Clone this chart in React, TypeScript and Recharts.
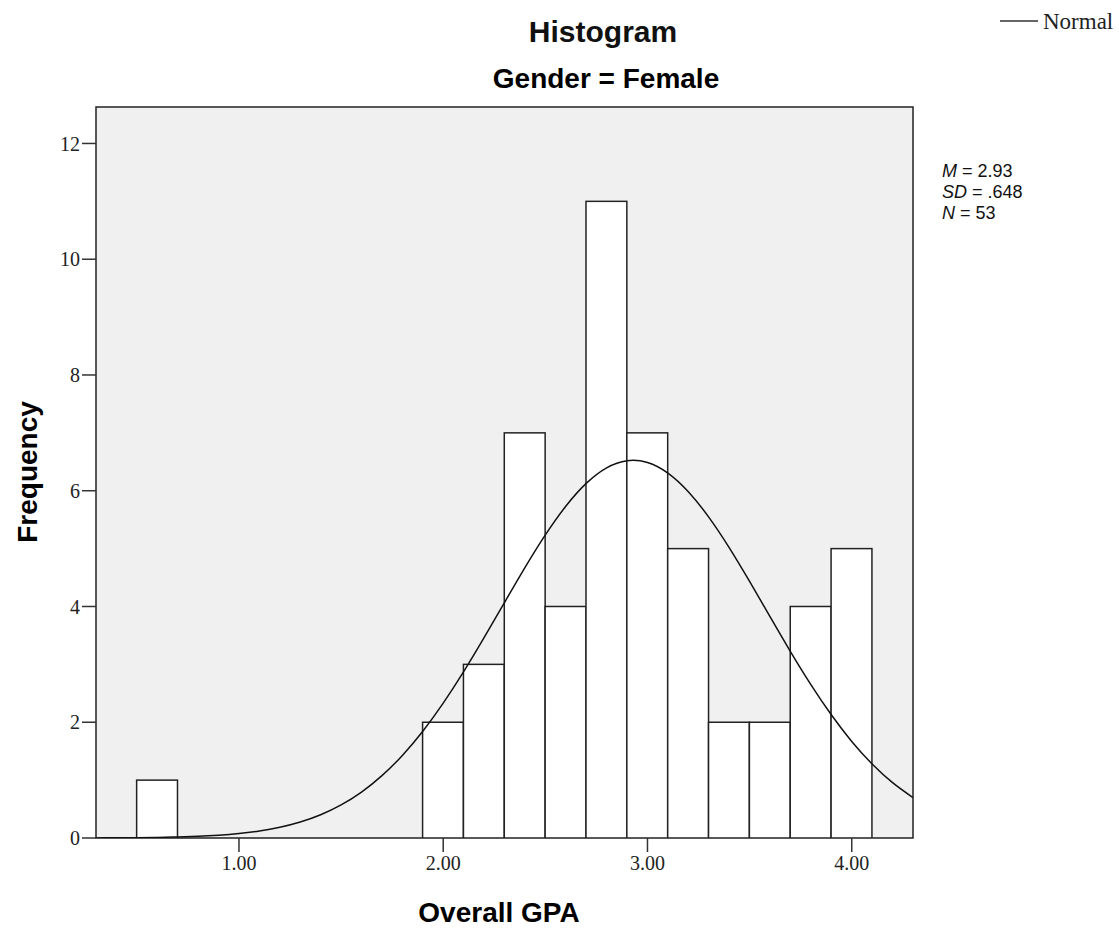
import { ComposedChart, Bar, Line, XAxis, YAxis, CartesianGrid, ReferenceArea } from 'recharts';

// histogram bins (bin centre, width .2) and counts
const binCenters = [0.6, 2.0, 2.2, 2.4, 2.6, 2.8, 3.0, 3.2, 3.4, 3.6, 3.8, 4.0];
const binCounts = [1, 2, 3, 7, 4, 11, 7, 5, 2, 2, 4, 5];
const binWidth = 0.2;

// fitted normal curve, read at every .1
const curveGpa = [
  0.3, 0.4, 0.5, 0.6, 0.7, 0.8, 0.9, 1.0, 1.1, 1.2, 1.3, 1.4, 1.5, 1.6, 1.7, 1.8, 1.9, 2.0, 2.1, 2.2,
  2.3, 2.4, 2.5, 2.6, 2.7, 2.8, 2.9, 3.0, 3.1, 3.2, 3.3, 3.4, 3.5, 3.6, 3.7, 3.8, 3.9, 4.0, 4.1, 4.2, 4.3,
];
const curveFreq = [
  0.002, 0.003, 0.006, 0.01, 0.018, 0.029, 0.048, 0.077, 0.121, 0.185, 0.276, 0.402, 0.572, 0.794,
  1.077, 1.427, 1.845, 2.33, 2.873, 3.46, 4.068, 4.671, 5.236, 5.732, 6.127, 6.396, 6.519, 6.488,
  6.305, 5.983, 5.544, 5.017, 4.432, 3.824, 3.221, 2.65, 2.129, 1.669, 1.279, 0.956, 0.698,
];

const xTicks = [1, 2, 3, 4];
const yTicks = [0, 2, 4, 6, 8, 10, 12];
const xDomain = [0.3, 4.3];
const yDomain = [0, 12.63];

const statLabels = ['M', 'SD', 'N'];
const statValues = ['2.93', '.648', '53'];

// one table: curve rows, with the bin count on the row of each bin centre
const data = curveGpa.map((gpa, i) => {
  const b = binCenters.findIndex((c) => Math.abs(c - gpa) < 1e-6);
  return { gpa, normal: curveFreq[i], count: b >= 0 ? binCounts[b] : undefined };
});

const W = 1119;
const H = 928;
const margin = { top: 107, right: 206, bottom: 50, left: 36 };
const yAxisWidth = 60;
const plotWidth = W - margin.left - margin.right - yAxisWidth;
const binPx = (plotWidth / (xDomain[1] - xDomain[0])) * binWidth;

const sans = '"Liberation Sans", Arial, sans-serif';
const serif = '"Liberation Serif", "Times New Roman", serif';

// bar is centred where recharts puts it, but spans the full bin width
const BinRect = (props: any) => {
  const { x, y, width, height } = props;
  if (height == null || !isFinite(height) || height <= 0) return null;
  const cx = x + width / 2;
  return (
    <rect
      x={cx - binPx / 2}
      y={y}
      width={binPx}
      height={height}
      fill="#ffffff"
      stroke="#222"
      strokeWidth={1.5}
    />
  );
};

export default function App() {
  return (
    <div style={{ position: 'absolute', left: 0, top: 0, width: W, height: H, background: '#fff' }}>
      <ComposedChart width={W} height={H} data={data} margin={margin} barCategoryGap={0} barGap={0}>
        <CartesianGrid fill="#f0f0f0" horizontal={false} vertical={false} />
        <XAxis
          dataKey="gpa"
          type="number"
          domain={xDomain}
          ticks={xTicks}
          allowDataOverflow
          tickFormatter={(v: number) => v.toFixed(2)}
          axisLine={false}
          tickLine={{ stroke: '#333', strokeWidth: 1.5 }}
          tickSize={14}
          tickMargin={4}
          height={40}
          tick={{ fill: '#222', fontSize: 20, fontFamily: serif }}
        />
        <YAxis
          type="number"
          domain={yDomain}
          ticks={yTicks}
          allowDataOverflow
          axisLine={false}
          tickLine={{ stroke: '#333', strokeWidth: 1.5 }}
          tickSize={14}
          tickMargin={2}
          width={yAxisWidth}
          tick={{ fill: '#222', fontSize: 20, fontFamily: serif }}
        />
        <Bar dataKey="count" shape={<BinRect />} isAnimationActive={false} />
        <Line
          dataKey="normal"
          type="natural"
          stroke="#111"
          strokeWidth={1.5}
          dot={false}
          isAnimationActive={false}
        />
        <ReferenceArea
          x1={xDomain[0]}
          x2={xDomain[1]}
          y1={yDomain[0]}
          y2={yDomain[1]}
          fill="none"
          fillOpacity={0}
          stroke="#222"
          strokeWidth={1.5}
        />
      </ComposedChart>

      <svg width={W} height={H} style={{ position: 'absolute', left: 0, top: 0, pointerEvents: 'none' }}>
        <text x={603} y={42} textAnchor="middle" fontFamily={sans} fontWeight="bold" fontSize={30} fill="#111">
          Histogram
        </text>
        <text x={606} y={88} textAnchor="middle" fontFamily={sans} fontWeight="bold" fontSize={28} fill="#000">
          Gender = Female
        </text>
        <text
          x={0}
          y={0}
          transform="translate(37 472) rotate(-90)"
          textAnchor="middle"
          fontFamily={sans}
          fontWeight="bold"
          fontSize={28}
          fill="#000"
        >
          Frequency
        </text>
        <text x={499} y={922} textAnchor="middle" fontFamily={sans} fontWeight="bold" fontSize={28} fill="#000">
          Overall GPA
        </text>

        <line x1={1000} y1={21} x2={1038} y2={21} stroke="#333" strokeWidth={1.5} />
        <text x={1043} y={29} fontFamily={serif} fontSize={23} fill="#222">
          Normal
        </text>

        {statLabels.map((label, i) => (
          <text key={label} x={942} y={177 + i * 21} fontFamily={sans} fontSize={18} fill="#111">
            <tspan fontStyle="italic">{label}</tspan>
            <tspan> = {statValues[i]}</tspan>
          </text>
        ))}
      </svg>
    </div>
  );
}
